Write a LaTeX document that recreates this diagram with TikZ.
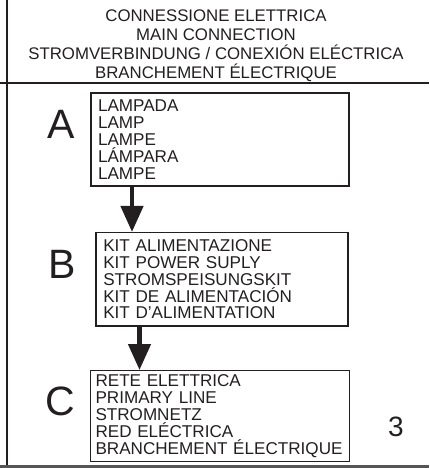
\documentclass[tikz,border=0pt]{standalone}
\usepackage{fontspec}
\setmainfont{Liberation Sans}
\usetikzlibrary{arrows.meta}
\definecolor{ink}{HTML}{231F20}
\definecolor{rule}{HTML}{555555}
\begin{document}
\begin{tikzpicture}[x=1pt,y=-1pt,
  frameline/.style={draw=ink,line width=1.6pt},
  listbox/.style={draw=ink,line width=1.4pt,align=left,inner ysep=0pt,
     font=\fontsize{17.1}{16.9}\selectfont,text=ink},
  bigletter/.style={anchor=base,inner sep=0pt,font=\fontsize{41}{41}\selectfont,text=ink},
  flowarrow/.style={draw=ink,line width=4.5pt,-{Triangle[length=26pt,width=22pt]}}]
\useasboundingbox (0,0) rectangle (429,468);
% frame
\coordinate (vtop) at (7,0);
\coordinate (vbot) at (7,466);
\coordinate (hl) at (0,83);
\coordinate (hr) at (429,83);
\coordinate (bl) at (0,466.5);
\coordinate (br) at (429,466.5);
\draw[frameline,line width=2pt] (vtop) -- (vbot);
\draw[frameline] (hl) -- (hr);
\draw[draw=rule,line width=2.5pt] (bl) -- (br);
% title
\node[anchor=north,inner sep=0pt,align=center,text=ink,
  font=\fontsize{16.8}{18.8}\selectfont] (title) at (216,9.8)
  {CONNESSIONE ELETTRICA\\MAIN CONNECTION\\STROMVERBINDUNG / CONEXIÓN ELÉCTRICA\\BRANCHEMENT ÉLECTRIQUE};
% boxes
\node[listbox,inner xsep=7pt,text width=244pt,minimum width=258pt,minimum height=93pt] (boxA) at (220,139.5)
  {LAMPADA\\LAMP\\LAMPE\\LÁMPARA\\LAMPE};
\node[listbox,inner xsep=7.3pt,text width=237.4pt,minimum width=252pt,minimum height=93.3pt] (boxB) at (222,279.3)
  {KIT ALIMENTAZIONE\\KIT POWER SUPLY\\STROMSPEISUNGSKIT\\KIT DE ALIMENTACIÓN\\KIT D'ALIMENTATION};
\node[listbox,inner xsep=4.8pt,text width=249pt,minimum width=258.6pt,minimum height=91pt] (boxC) at (220,416.2)
  {RETE ELETTRICA\\PRIMARY LINE\\STROMNETZ\\RED ELÉCTRICA\\BRANCHEMENT ÉLECTRIQUE};
% letters
\node[bigletter] (letA) at (61,138) {A};
\node[bigletter] (letB) at (62.5,278) {B};
\node[bigletter] (letC) at (60,415) {C};
% page number
\node[anchor=base,inner sep=0pt,font=\fontsize{28}{28}\selectfont,text=ink] (pagenum) at (396,436.5) {3};
% arrows
\coordinate (axA) at (132,0);
\coordinate (axB) at (139.5,0);
\draw[flowarrow] (boxA.south -| axA) -- (boxB.north -| axA);
\draw[flowarrow] (boxB.south -| axB) -- (boxC.north -| axB);
\end{tikzpicture}
\end{document}
